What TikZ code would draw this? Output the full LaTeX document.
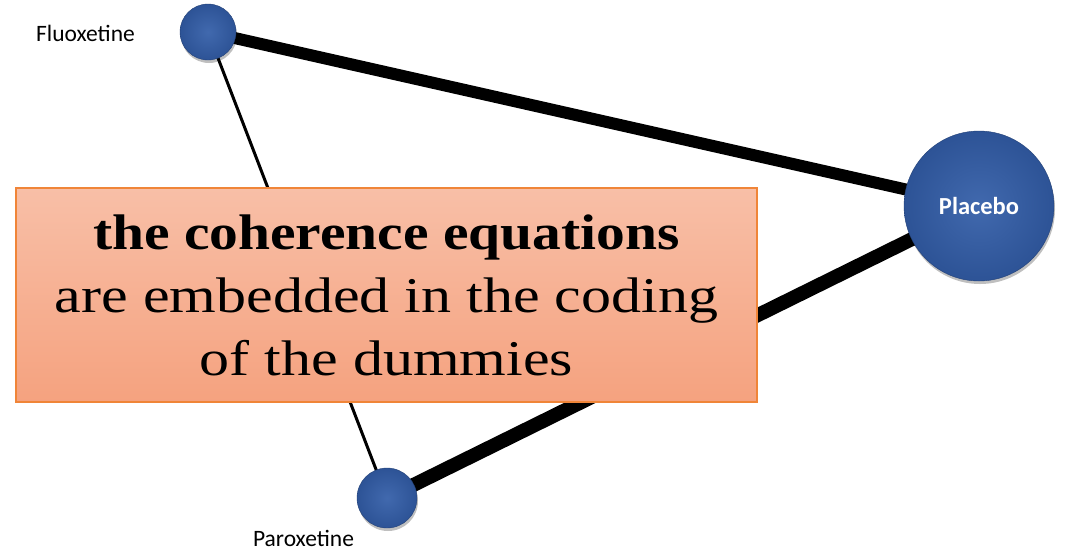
\documentclass[tikz,border=0pt]{standalone}
\usepackage{fontspec}
\setmainfont{Liberation Serif}
\newfontfamily\lblfont{Carlito}
\newfontfamily\boxfont[FakeStretch=1.2]{Liberation Serif}
\newfontfamily\boxbold[FakeStretch=1.15]{Liberation Serif}
\usetikzlibrary{shadows}
\definecolor{ballIn}{HTML}{4169AE}
\definecolor{ballOut}{HTML}{2D5396}
\definecolor{boxTop}{HTML}{F8BFA7}
\definecolor{boxBot}{HTML}{F5A27F}
\definecolor{boxLine}{HTML}{F08538}
\begin{document}
\begin{tikzpicture}[x=1pt,y=-1pt,
  ball/.style={circle,inner sep=0pt,draw=ballOut!80!black,line width=0.4pt,
    inner color=ballIn,outer color=ballOut,
    drop shadow={shadow xshift=1pt,shadow yshift=-3pt,opacity=0.25,fill=black}},
  lbl/.style={font=\lblfont\fontsize{23.5}{26}\selectfont,text=black,inner sep=0pt},
  thinedge/.style={line width=3pt,black},
  thickedge/.style={line width=12pt,black},
  thickeredge/.style={line width=14pt,black}]
\useasboundingbox (0,0) rectangle (1066,550);
\coordinate (fluc) at (208,32);
\coordinate (parc) at (387,498);
\coordinate (plac) at (979,206);
\draw[thinedge] (fluc) -- (parc);
\draw[thickedge] (fluc) -- (plac);
\draw[thickeredge] (parc) -- (plac);
\node[ball,minimum size=56pt] (flu) at (fluc) {};
\node[ball,minimum size=60pt] (par) at (parc) {};
\node[ball,minimum size=150pt,text=white,font=\lblfont\bfseries\fontsize{24.5}{28}\selectfont] (pla) at (plac) {Placebo};
\node[lbl] (flulbl) at (85.5,33) {Fluoxetine};
\node[lbl] (parlbl) at (303.5,538) {Paroxetine};
\node[draw=boxLine,line width=1.5pt,top color=boxTop,bottom color=boxBot,
  minimum width=741pt,minimum height=214pt,inner sep=0pt,
  align=center,font=\boxfont\fontsize{50}{63}\selectfont] (box) at (386.5,295)
  {{\boxbold\bfseries the coherence equations}\\are embedded in the coding\\of the dummies};
\end{tikzpicture}
\end{document}
